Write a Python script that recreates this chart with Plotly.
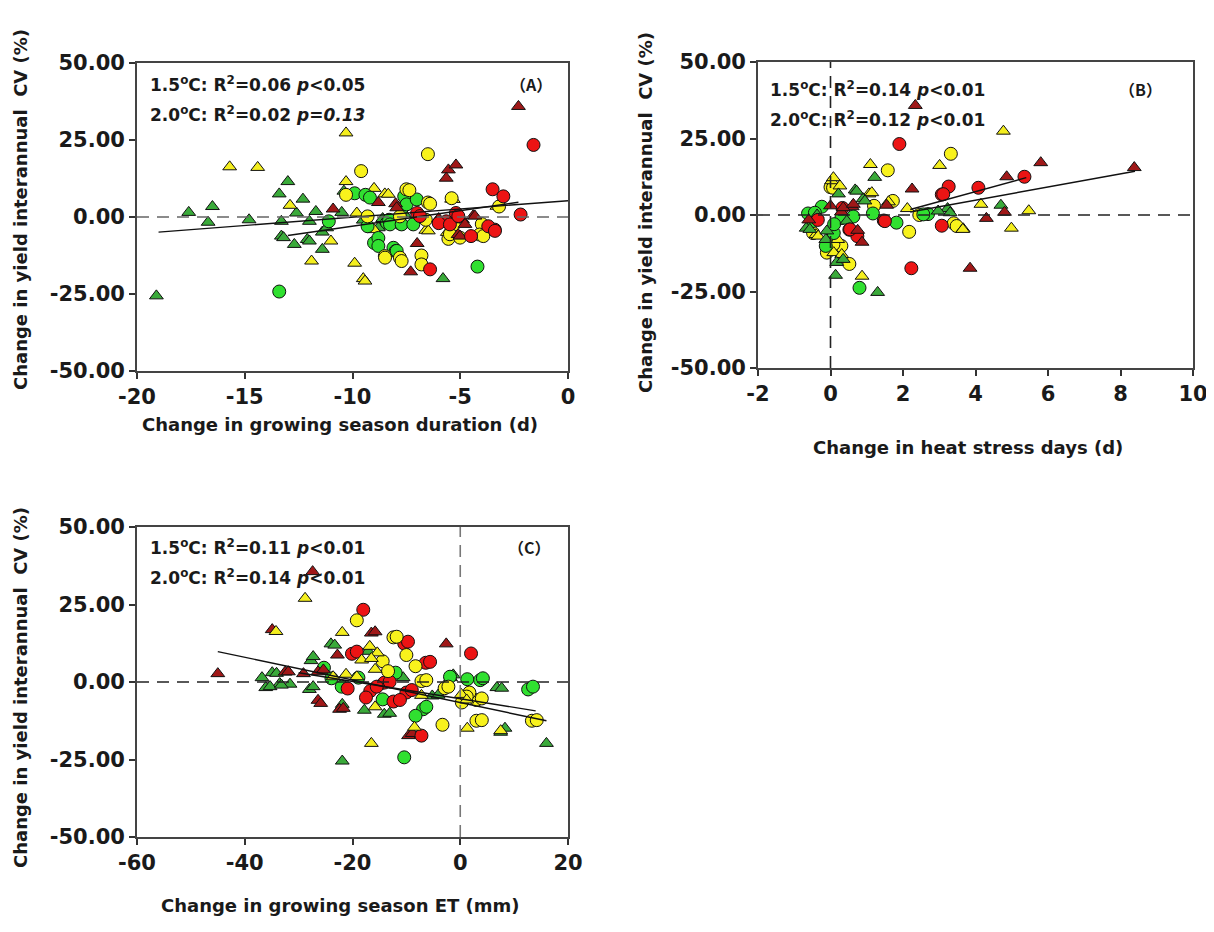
import plotly.graph_objects as go

# ---------------- data ----------------
# Panel A: change in growing season duration (d)
a_tri_green_x = [-19.1, -17.6, -16.5, -16.7, -14.8, -13.0, -13.4, -13.3, -13.3, -12.7, -12.1, -12.3, -12.6,
                 -12.0, -11.4, -11.4, -11.7, -10.5, -10.4, -5.8, -11.2, -12.0, -13.2, -9.5, -8.8, -8.6, -7.6]
a_tri_green_y = [-25.6, 1.5, 3.4, -1.7, -0.9, 11.5, 7.5, -1.4, -6.2, -8.9, -7.3, 5.8, 1.3,
                 -1.4, -4.9, -10.5, 1.8, 1.5, 8.4, -20.0, -3.5, -7.8, -6.7, -1.0, -3.5, -0.5, 1.0]
a_tri_yellow_x = [-15.7, -14.4, -10.3, -10.3, -11.9, -11.0, -9.9, -9.5, -9.0, -8.5, -6.6, -5.4, -9.8, -9.0,
                  -12.9, -5.6, -3.3, -8.34, -6.48, -5.32, -9.42]
a_tri_yellow_y = [16.3, 16.1, 27.3, 11.5, -14.3, -7.8, -15.0, -20.0, 9.3, 7.5, -4.3, 5.8, 1.3, -4.1,
                  3.8, -5.0, 3.5, 7.4, -4.5, 5.7, -20.8]
a_tri_darkred_x = [-2.3, -5.55, -5.2, -5.65, -7.0, -7.3, -8.8, -8.0, -10.9, -5.1, -4.4, -4.9, -6.0,
                   -4.78, -4.32, -7.95, -5.01]
a_tri_darkred_y = [35.9, 15.3, 16.9, 12.6, -8.6, -17.8, 4.7, 4.3, 2.6, -5.7, 0.4, -0.9, -0.5,
                   -2.4, 0.3, 3.0, -6.2]
a_cir_green_x = [-13.4, -4.2, -9.9, -9.4, -7.6, -9.0, -8.1, -8.0, -8.4, -7.8, -11.1, -8.3, -8.8, -7.7, -9.3,
                 -9.19, -7.49, -7.02, -8.26, -7.72, -7.18, -8.8, -7.95]
a_cir_green_y = [-24.2, -16.1, 7.7, 7.2, 6.7, -8.4, -10.0, -11.1, -1.9, -2.1, -1.4, -0.9, -6.8, 2.9, -3.0,
                 6.3, 4.1, 5.7, -2.4, -2.4, -2.4, -9.4, -11.0]
a_cir_yellow_x = [-6.5, -9.6, -7.5, -6.5, -8.5, -7.8, -6.8, -6.8, -4.0, -4.1, -5.55, -3.2, -9.3, -10.3, -7.8,
                  -6.6, -5.3, -5.4, -7.36, -6.4, -8.49, -7.72, -5.48, -5.01, -3.93]
a_cir_yellow_y = [20.4, 14.9, 9.0, 4.7, -12.7, -13.2, -12.5, -15.4, -2.3, -5.7, -7.1, 3.4, 0.2, 7.2, 0.2,
                  -0.9, -2.5, 6.1, 8.7, 4.3, -13.2, -14.3, -5.6, -6.7, -6.2]
a_cir_red_x = [-1.6, -2.2, -3.5, -3.0, -3.4, -4.5, -6.4, -5.65, -5.2, -7.0, -3.7, -6.0, -3.39, -5.48, -5.09, -6.87]
a_cir_red_y = [23.4, 0.8, 9.0, 6.7, -4.1, -6.2, -17.0, -1.4, 1.3, 1.3, -3.0, -2.0, -4.5, -2.4, 0.3, 0.3]
a_fit1_x = [-19.0, 0.0]
a_fit1_y = [-4.9, 5.3]
a_fit2_x = [-13.0, -2.3]
a_fit2_y = [-6.0, 4.8]

# Panel B: change in heat stress days (d)
b_tri_green_x = [1.3, 0.14, 1.22, 0.68, -0.67, 4.7, 3.23, 0.17, 0.22, 0.9, -0.37, -0.13, 0.45,
                 0.72, 0.95, -0.57, -0.1, 0.35, 2.97, 3.3]
b_tri_green_y = [-25.3, -19.7, 12.3, 8.2, -4.3, 3.2, 2.1, -15.5, 6.9, 5.3, 0.0, -8.0, -2.0,
                 7.8, 4.6, -4.7, -5.2, -14.5, 1.3, 0.75]
b_tri_yellow_x = [4.77, 1.1, 3.01, 4.15, 5.47, 4.99, 3.66, 2.12, 0.87, 0.03, 0.3, 0.09, -0.4, 1.6, 1.06, 0.2,
                  0.08, 0.26, 1.14, -0.34, 0.31, 3.65]
b_tri_yellow_y = [27.4, 16.5, 16.2, 3.5, 1.4, -4.3, -4.5, 2.1, -20.0, 11.2, -14.4, -12.3, -6.4, 4.3, 6.9, -8.0,
                  12.2, 9.5, 7.3, -6.9, -12.9, -4.7]
b_tri_darkred_x = [2.34, 8.38, 5.8, 4.86, 4.8, 4.3, 3.85, 2.25, 0.87, 0.0, 0.6, 1.55, -0.6, 0.3, 0.75, 0.35, 0.63]
b_tri_darkred_y = [35.8, 15.5, 17.1, 12.5, 0.9, -1.1, -17.4, 8.5, -8.9, 3.0, 2.7, 3.2, -1.6, 1.0, -5.0, 2.4, 3.5]
b_cir_green_x = [0.8, -0.62, 1.82, 2.69, -0.13, 0.09, 0.63, 1.17, -0.24, -0.5, -0.43, 2.56, 0.3, 0.1]
b_cir_green_y = [-23.8, 0.5, -2.5, 0.3, -10.1, -5.9, -0.5, 0.5, 2.7, -2.0, 0.75, 0.2, -1.0, -3.0]
b_cir_yellow_x = [3.32, 1.58, 2.17, 3.4, 2.45, 0.52, -0.1, 0.0, -0.48, 0.3, 1.2, 0.07, 1.72, 3.48, 0.08]
b_cir_yellow_y = [20.0, 14.6, -5.5, -2.7, 0.0, -16.0, -12.3, 9.1, -5.9, -10.1, 3.0, 8.9, 4.6, -3.6, -9.6]
b_cir_red_x = [1.9, 5.35, 4.08, 3.26, 3.07, 3.07, 2.23, 1.47, 0.52, -0.35, 0.33, 0.74, 0.54, 1.5, 3.11]
b_cir_red_y = [23.2, 12.5, 8.9, 9.3, 6.7, -3.5, -17.4, -1.8, -4.8, -1.6, 2.3, -6.9, -4.7, -2.0, 6.8]
b_fit1_x = [2.2, 5.4]
b_fit1_y = [1.8, 12.2]
b_fit2_x = [2.2, 8.4]
b_fit2_y = [1.0, 14.3]

# Panel C: change in growing season ET (mm)
c_tri_green_x = [-21.9, 16.0, 7.5, 6.8, -36.8, -34.9, -36.1, -33.5, -31.6, -27.7, -28.0, -24.0, -1.8, -5.2,
                 -14.1, -17.8, -17.1, -10.6, -21.9, -27.3, -34.1, -35.3, -33.2, -27.3, -23.3, -1.3, -4.1,
                 8.3, 7.7, -13.1]
c_tri_green_y = [-25.5, -19.8, -16.2, -1.8, 1.4, 3.0, -1.8, -0.5, -0.7, 6.9, -2.4, 12.3, 1.4, -4.5,
                 -10.4, -9.1, 9.9, 1.4, -7.2, 8.2, 2.8, -1.5, -1.0, -1.5, 11.9, 2.3, -4.2,
                 -14.9, -2.0, -10.1]
c_tri_yellow_x = [-28.8, -34.2, -21.9, -16.8, -16.5, 1.3, 7.5, -8.5, -7.2, -15.8, -21.2, 0.2, -15.4,
                  -18.3, -16.5, -23.6, -19.2, 1.2, -15.8]
c_tri_yellow_y = [27.0, 16.3, 16.0, 11.5, -19.8, -14.9, -15.7, -14.6, -4.3, 4.1, 2.5, -4.0, 9.4,
                  7.1, 7.6, 1.7, 1.7, -5.8, -8.0]
c_tri_darkred_x = [-27.4, -34.9, -45.0, -16.5, -2.6, -22.8, -26.4, -29.1, -32.5, -26.4, -25.9, -22.4, -9.6,
                   -8.9, -15.4, -31.9, -25.4, -21.7, -15.8]
c_tri_darkred_y = [35.6, 16.9, 2.7, 15.8, 12.3, 8.7, 3.3, 2.7, 3.2, -5.9, -6.9, -8.8, -17.3,
                   -16.6, -1.3, 3.3, 3.9, -8.5, 16.2]
c_cir_green_x = [-10.4, 12.6, 1.3, 3.7, -6.9, -8.3, -25.3, -12.0, -14.4, -18.9, -23.9, -22.0, -1.9, 4.2,
                 -6.3, 13.5]
c_cir_green_y = [-24.3, -2.4, 0.9, 0.6, -8.8, -10.9, 4.6, 3.0, -5.6, 1.4, 1.2, -1.5, 1.7, 1.2,
                 -8.0, -1.5]
c_cir_yellow_x = [-19.2, -12.4, -10.0, -8.3, -7.2, -3.3, 3.0, 13.3, 3.0, 1.7, 0.3, -2.9, -14.4, -13.4,
                  -11.8, -6.3, -2.2, 1.2, 4.0, 4.0, 14.2]
c_cir_yellow_y = [19.9, 14.4, 8.7, 5.1, 0.3, -13.8, -12.5, -12.5, -5.8, -3.4, -6.6, -2.0, 6.7, 3.5,
                  14.6, 0.6, -1.5, -4.7, -5.3, -12.3, -12.3]
c_cir_red_x = [-18.0, -10.4, 2.0, -6.4, -20.1, -20.9, -16.7, -14.1, -12.4, -7.2, -10.0, -17.5,
               -19.2, -9.7, -5.6, -11.2, -9.0, -15.5, -13.1]
c_cir_red_y = [23.3, 12.4, 9.2, 6.2, 9.1, -2.1, -2.9, -0.2, -6.3, -17.3, -3.4, -5.0,
               9.8, 13.0, 6.5, -5.8, -2.6, -1.5, 0.1]
c_fit1_x = [-45.0, 16.0]
c_fit1_y = [9.8, -12.5]
c_fit2_x = [-30.0, 14.0]
c_fit2_y = [3.0, -9.3]

y_ticks = [-50, -25, 0, 25, 50]
y_tick_text = ["-50.00", "-25.00", "0.00", "25.00", "50.00"]
a_ticks = [-20, -15, -10, -5, 0]
a_tick_text = ["-20", "-15", "-10", "-5", "0"]
b_ticks = [-2, 0, 2, 4, 6, 8, 10]
b_tick_text = ["-2", "0", "2", "4", "6", "8", "10"]
c_ticks = [-60, -40, -20, 0, 20]
c_tick_text = ["-60", "-40", "-20", "0", "20"]

titles_x = ["Change in growing season duration (d)", "Change in heat stress days (d)",
            "Change in growing season ET (mm)"]
title_y = "Change in yield interannual  CV (%)"
stats = [["1.5<sup>o</sup>C: R<sup>2</sup>=0.06 <i>p</i>&lt;0.05", "2.0<sup>o</sup>C: R<sup>2</sup>=0.02 <i>p=0.13</i>"],
         ["1.5<sup>o</sup>C: R<sup>2</sup>=0.14 <i>p</i>&lt;0.01", "2.0<sup>o</sup>C: R<sup>2</sup>=0.12 <i>p</i>&lt;0.01"],
         ["1.5<sup>o</sup>C: R<sup>2</sup>=0.11 <i>p</i>&lt;0.01", "2.0<sup>o</sup>C: R<sup>2</sup>=0.14 <i>p</i>&lt;0.01"]]
labels = ["（A）", "（B）", "（C）"]

# ---------------- figure ----------------
W, H = 1214, 932
OFF = 8  # page body margin offset of the plot div
FONT = "DejaVu Sans, Liberation Sans, Arial"
COL = {"tri_green": "#3aaa3a", "tri_yellow": "#f4ee1e", "tri_darkred": "#a01818",
       "cir_green": "#30e030", "cir_yellow": "#f8f21c", "cir_red": "#ec1414"}

fig = go.Figure()

panels = [
    ("x", "y", [(a_tri_green_x, a_tri_green_y, "tri_green"), (a_tri_yellow_x, a_tri_yellow_y, "tri_yellow"),
                (a_cir_green_x, a_cir_green_y, "cir_green"), (a_cir_yellow_x, a_cir_yellow_y, "cir_yellow"),
                (a_tri_darkred_x, a_tri_darkred_y, "tri_darkred"), (a_cir_red_x, a_cir_red_y, "cir_red")],
     [(a_fit1_x, a_fit1_y), (a_fit2_x, a_fit2_y)]),
    ("x2", "y2", [(b_cir_yellow_x, b_cir_yellow_y, "cir_yellow"), (b_tri_yellow_x, b_tri_yellow_y, "tri_yellow"),
                  (b_cir_green_x, b_cir_green_y, "cir_green"), (b_tri_green_x, b_tri_green_y, "tri_green"),
                  (b_cir_red_x, b_cir_red_y, "cir_red"), (b_tri_darkred_x, b_tri_darkred_y, "tri_darkred")],
     [(b_fit1_x, b_fit1_y), (b_fit2_x, b_fit2_y)]),
    ("x3", "y3", [(c_tri_green_x, c_tri_green_y, "tri_green"), (c_cir_green_x, c_cir_green_y, "cir_green"),
                  (c_tri_darkred_x, c_tri_darkred_y, "tri_darkred"), (c_cir_red_x, c_cir_red_y, "cir_red"),
                  (c_cir_yellow_x, c_cir_yellow_y, "cir_yellow"), (c_tri_yellow_x, c_tri_yellow_y, "tri_yellow")],
     [(c_fit1_x, c_fit1_y), (c_fit2_x, c_fit2_y)]),
]

for xa, ya, series, fits in panels:
    for xs, ys, key in series:
        tri = key.startswith("tri")
        fig.add_trace(go.Scatter(
            x=xs, y=ys, mode="markers", xaxis=xa, yaxis=ya, showlegend=False,
            marker=dict(symbol="triangle-up" if tri else "circle", size=12 if tri else 13,
                        color=COL[key], line=dict(color="#111111", width=1))))
    for fx, fy in fits:
        fig.add_trace(go.Scatter(x=fx, y=fy, mode="lines", xaxis=xa, yaxis=ya, showlegend=False,
                                 line=dict(color="#111111", width=1.4)))

def px_x(p):
    return (p - OFF) / W

def px_y(p):
    return 1 - (p - OFF) / H

TICKFONT = dict(family=FONT, size=21, color="#1a1a1a", weight="bold")

def xaxis(dom, rng, ticks, text, anchor):
    return dict(domain=dom, range=rng, tickvals=ticks, ticktext=text, anchor=anchor, ticks="outside",
                ticklen=6, tickwidth=1.5, tickcolor="#333", showline=True, linecolor="#444", linewidth=1.8,
                mirror=True, showgrid=False, zeroline=False, automargin=False, tickfont=TICKFONT)

def yaxis(dom, anchor):
    return dict(domain=dom, range=[-50, 50], tickvals=y_ticks, ticktext=y_tick_text, anchor=anchor,
                ticks="outside", ticklen=6, tickwidth=1.5, tickcolor="#333", showline=True,
                linecolor="#444", linewidth=1.8, mirror=True, showgrid=False, zeroline=False,
                automargin=False, tickfont=TICKFONT)

fig.update_layout(
    width=W, height=H, margin=dict(l=0, r=0, t=0, b=0, pad=0, autoexpand=False),
    paper_bgcolor="white", plot_bgcolor="white", showlegend=False,
    xaxis=xaxis([px_x(137), px_x(568)], [-20, 0], a_ticks, a_tick_text, "y"),
    yaxis=yaxis([px_y(371), px_y(63)], "x"),
    xaxis2=xaxis([px_x(758), px_x(1193)], [-2, 10], b_ticks, b_tick_text, "y2"),
    yaxis2=yaxis([px_y(368), px_y(62)], "x2"),
    xaxis3=xaxis([px_x(137), px_x(568)], [-60, 20], c_ticks, c_tick_text, "y3"),
    yaxis3=yaxis([px_y(837), px_y(527)], "x3"),
)

dash = "12px,8px"
shapes = [
    dict(type="line", xref="x domain", yref="y", x0=0, x1=1, y0=0, y1=0,
         line=dict(color="#666", width=1.6, dash=dash)),
    dict(type="line", xref="x2 domain", yref="y2", x0=0, x1=1, y0=0, y1=0,
         line=dict(color="#222", width=1.6, dash=dash)),
    dict(type="line", xref="x2", yref="y2 domain", x0=0, x1=0, y0=0, y1=1,
         line=dict(color="#222", width=1.6, dash=dash)),
    dict(type="line", xref="x3 domain", yref="y3", x0=0, x1=1, y0=0, y1=0,
         line=dict(color="#222", width=1.6, dash=dash)),
    dict(type="line", xref="x3", yref="y3 domain", x0=0, x1=0, y0=0, y1=1,
         line=dict(color="#777", width=1.6, dash=dash)),
]
fig.update_layout(shapes=shapes)

ann = []
title_font = dict(family=FONT, size=18, color="#1a1a1a", weight="bold")
# x axis titles
for txt, cx, cy in zip(titles_x, [340, 968, 340], [424, 447, 905]):
    ann.append(dict(text=txt, x=px_x(cx), y=px_y(cy), xref="paper", yref="paper", showarrow=False,
                    xanchor="center", yanchor="middle", font=title_font))
# y axis titles
for cx, cy in zip([20, 645, 20], [210, 213, 688]):
    ann.append(dict(text=title_y, x=px_x(cx), y=px_y(cy), xref="paper", yref="paper", showarrow=False,
                    xanchor="center", yanchor="middle", textangle=-90, font=title_font))
# statistics text and panel labels
stat_font = dict(family=FONT, size=17, color="#1a1a1a", weight="bold")
for (l1, l2), lab, sx, sy, lx in zip(stats, labels, [148, 768, 148], [84, 89, 547], [531, 1140, 529]):
    ann.append(dict(text=l1, x=px_x(sx), y=px_y(sy), xref="paper", yref="paper", showarrow=False,
                    xanchor="left", yanchor="middle", font=stat_font))
    ann.append(dict(text=l2, x=px_x(sx), y=px_y(sy + 30), xref="paper", yref="paper", showarrow=False,
                    xanchor="left", yanchor="middle", font=stat_font))
    ann.append(dict(text=lab, x=px_x(lx), y=px_y(sy), xref="paper", yref="paper", showarrow=False,
                    xanchor="center", yanchor="middle",
                    font=dict(family="Noto Sans CJK SC, DejaVu Sans", size=16, color="#1a1a1a", weight="bold")))
fig.update_layout(annotations=ann)

fig.write_html("out.html")
